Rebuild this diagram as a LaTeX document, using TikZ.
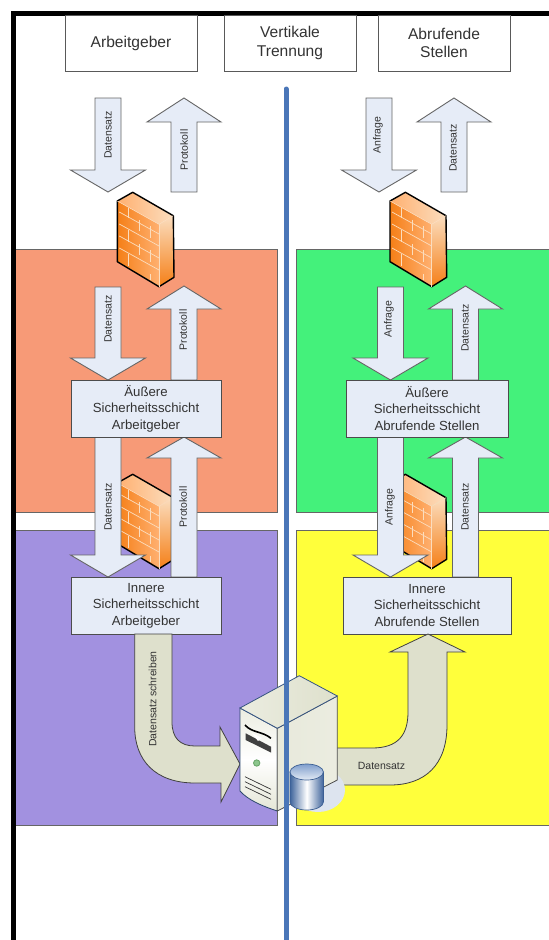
\documentclass[tikz,border=0pt]{standalone}
\usepackage{fontspec}
\setmainfont{Liberation Sans}
\usetikzlibrary{calc}
\definecolor{arrowfill}{HTML}{E6ECF7}
\definecolor{bendfill}{HTML}{DEE0CC}
\definecolor{zonered}{HTML}{F79A77}
\definecolor{zonegreen}{HTML}{44F17B}
\definecolor{zonepurple}{HTML}{A291E0}
\definecolor{zoneyellow}{HTML}{FFFF3B}
\definecolor{divider}{HTML}{4A76B8}
\definecolor{inktext}{HTML}{333333}
\definecolor{brickedge}{HTML}{F57F17}
\definecolor{brickmid}{HTML}{FFB070}
\definecolor{bricklight}{HTML}{FBDDBE}
\definecolor{halo}{HTML}{DDE4EF}
\tikzset{
  zonebox/.style={draw=black!60,line width=0.8pt},
  headbox/.style={draw=black!65,line width=0.9pt,fill=white,text=inktext,font=\fontsize{15.6}{18.5}\selectfont,align=center},
  layerbox/.style={draw=black!70,line width=0.9pt,fill=arrowfill,text=inktext,font=\fontsize{13.2}{16.5}\selectfont,align=center},
  blockarrow/.style={draw=black!60,line width=0.9pt,fill=arrowfill},
  bendarrow/.style={draw=black!75,line width=0.8pt,fill=bendfill},
  arrowlabel/.style={text=inktext,font=\fontsize{10.5}{12}\selectfont,inner sep=0pt},
  uplabel/.style={arrowlabel,rotate=90},
  mortar/.style={draw=bricklight,line width=0.7pt},
  firewall/.pic={
    \shade[left color=brickedge,right color=brickmid] (0,0) -- (41.7,23.3) -- (41.7,85.7) -- (0,60.7) -- cycle;
    \shade[left color=brickmid,right color=bricklight] (0,0) -- (15.4,-8.7) -- (56,14.7) -- (41.7,23.3) -- cycle;
    \shade[top color=bricklight,bottom color=brickedge] (41.7,23.3) -- (56,14.7) -- (56.7,76.3) -- (41.7,85.7) -- cycle;
    \foreach \v in {11,23,35,47} \draw[mortar] (2,\v) -- (41.7,{\v+22});
    \draw[mortar] (11,6.5) -- (11,17);
    \draw[mortar] (22,19) -- (22,30);
    \draw[mortar] (33,25) -- (33,37);
    \draw[mortar] (11,29) -- (11,41);
    \draw[mortar] (22,43) -- (22,54);
    \draw[mortar] (33,49) -- (33,61);
    \draw[mortar] (11,53) -- (11,65);
    \draw[mortar] (33,73) -- (33,79);
    \draw[line width=1.4pt,line join=round] (0,0) -- (15.4,-8.7) -- (56,14.7) -- (56.7,76.3) -- (41.7,85.7) -- (0,60.7) -- cycle;
    \draw[line width=0.5pt,draw=bricklight] (41.7,23.3) -- (41.7,85.7);
    \draw[line width=0.5pt,draw=bricklight] (0,0) -- (41.7,23.3) -- (56,14.7);
  }
}
\newcommand{\BlockDown}[4]{% centre, top, shoulder, tip
  \draw[blockarrow] ({#1-13},#2) -- ({#1+13},#2) -- ({#1+13},#3) -- ({#1+37.5},#3) -- (#1,#4) -- ({#1-37.5},#3) -- ({#1-13},#3) -- cycle;}
\newcommand{\BlockUp}[4]{% centre, bottom, shoulder, tip
  \draw[blockarrow] ({#1-13},#2) -- ({#1+13},#2) -- ({#1+13},#3) -- ({#1+37},#3) -- (#1,#4) -- ({#1-37},#3) -- ({#1-13},#3) -- cycle;}
\begin{document}
\begin{tikzpicture}[x=1pt,y=-1pt]
\useasboundingbox (0,0) rectangle (549,940);
\fill[white] (0,0) rectangle (549,940);
% zones
\draw[zonebox,fill=zonered] (15,249) rectangle (277,512);
\draw[zonebox,fill=zonegreen] (296,249) rectangle (549.5,512);
\draw[zonebox,fill=zonepurple] (15,530) rectangle (277,825);
\draw[zonebox,fill=zoneyellow] (296,530) rectangle (549.5,825);
% frame
\fill[black] (11,10.5) rectangle (549,15.5);
\fill[black] (11,10.5) rectangle (16,940);
% header boxes
\node[headbox,minimum width=132pt,minimum height=56pt] (hA) at (131,43) {Arbeitgeber};
\node[headbox,minimum width=132pt,minimum height=56pt] (hV) at (290,43) {Vertikale\\Trennung};
\node[headbox,minimum width=132pt,minimum height=56pt] (hS) at (444,43) {Abrufende\\Stellen};
% firewalls
\pic at (117.3,201) {firewall};
\pic at (390,201) {firewall};
\pic at (117.3,483) {firewall};
\pic at (390,483) {firewall};
% block arrows, left
\BlockDown{108}{98}{170}{192}
\BlockUp{184}{192}{122}{98}
\BlockDown{108}{287}{358}{380}
\BlockUp{184}{380}{309}{286}
\BlockDown{108}{437}{555}{577}
\BlockUp{184}{577}{458}{437}
% block arrows, right
\BlockDown{379}{98}{170}{192}
\BlockUp{454}{192}{122}{98}
\BlockDown{390.5}{287}{358}{380}
\BlockUp{465.5}{380}{309}{286}
\BlockDown{390.5}{437}{555}{577}
\BlockUp{465.5}{577}{458}{437}
% arrow labels
\node[uplabel] (l1) at (108,135) {Datensatz};
\node[uplabel] (l2) at (184,150) {Protokoll};
\node[uplabel] (l3) at (108,319) {Datensatz};
\node[uplabel] (l4) at (183,330) {Protokoll};
\node[uplabel] (l5) at (108,507) {Datensatz};
\node[uplabel] (l6) at (183,507) {Protokoll};
\node[uplabel] (r1) at (378,135) {Anfrage};
\node[uplabel] (r2) at (453,148) {Datensatz};
\node[uplabel] (r3) at (389,319) {Anfrage};
\node[uplabel] (r4) at (465,328) {Datensatz};
\node[uplabel] (r5) at (390,507) {Anfrage};
\node[uplabel] (r6) at (465,507) {Datensatz};
% layer boxes
\node[layerbox,minimum width=150pt,minimum height=57pt] (oA) at (146,408.5) {Äußere\\Sicherheitsschicht\\Arbeitgeber};
\node[layerbox,minimum width=162pt,minimum height=57pt] (oS) at (427,408.5) {Äußere\\Sicherheitsschicht\\Abrufende Stellen};
\node[layerbox,minimum width=150pt,minimum height=57pt] (iA) at (146,605.5) {Innere\\Sicherheitsschicht\\Arbeitgeber};
\node[layerbox,minimum width=168pt,minimum height=57pt] (iS) at (427,605.5) {Innere\\Sicherheitsschicht\\Abrufende Stellen};
% bent arrows
\draw[bendarrow] (134.7,634) -- (172,634) -- (172,722) .. controls (172,738) and (180,746) .. (195,746) -- (220,746) -- (220,727) -- (240,764) -- (221,802) -- (221,783) -- (195,783) .. controls (155,783) and (134.7,760) .. (134.7,727) -- cycle;
\draw[bendarrow] (335,748) -- (372,748) .. controls (398,748) and (408,735) .. (408,712) -- (408,652) -- (390,652) -- (428,634) -- (465,652) -- (447,652) -- (447,725) .. controls (447,765) and (425,785) .. (390,785) -- (335,785) -- cycle;
\node[uplabel] (lb) at (152.5,699) {Datensatz schreiben};
\node[arrowlabel] (rb) at (381.5,766) {Datensatz};
% disk halo, behind the server
\fill[halo] (318,790) ellipse[x radius=27,y radius=22];
% server
\shade[top color=bendfill!60!white,bottom color=bendfill!80!white,middle color=white,draw=divider!60!black,line width=0.8pt] (240,708) -- (277.3,728.3) -- (277.3,811) .. controls (262,806) and (248,800) .. (240,791) -- cycle;
\shade[left color=bendfill!70!white,right color=bendfill!60!white,draw=black!70,line width=0.8pt] (277.3,728.3) -- (337.3,696) -- (337.3,780) -- (277.3,811) -- cycle;
\shade[left color=bendfill!60!white,right color=bendfill,draw=divider!70!black,line width=0.8pt] (240,708) -- (299.3,675.7) -- (337.3,696) -- (277.3,728.3) -- cycle;
\draw[line width=1.6pt,black] (245,725) .. controls (252,733) and (262,731) .. (271,738.3);
\fill[black!75] (245.7,733.3) -- (271,746.7) -- (271,752.5) -- (245.7,740) -- cycle;
\fill[white] (252,733) -- (262,738) -- (258,741) -- cycle;
\draw[draw=black!60!green!60!white,fill=green!50!black!45!white,line width=0.8pt] (256.7,763) circle (3.2);
\draw[black!80,line width=0.7pt] (245,776.7) -- (271,789.3);
\draw[black!80,line width=0.7pt] (245,781.7) -- (271,794.3);
\draw[black!80,line width=0.7pt] (245,786.7) -- (271,799.3);
% divider
\draw[divider,line width=5pt,line cap=round] (286,89) -- (286,942);
% disk
\shade[left color=divider!85!black,right color=divider!85!black,middle color=white,draw=divider!80!black,line width=0.7pt] (290,772) -- (290,802) arc[start angle=180,end angle=0,x radius=16.7,y radius=8] -- (323.4,772) -- cycle;
\shade[top color=divider!70!white,bottom color=divider!15!white,draw=divider!80!black,line width=0.7pt] (306.7,772) ellipse[x radius=16.7,y radius=8];
\end{tikzpicture}
\end{document}
